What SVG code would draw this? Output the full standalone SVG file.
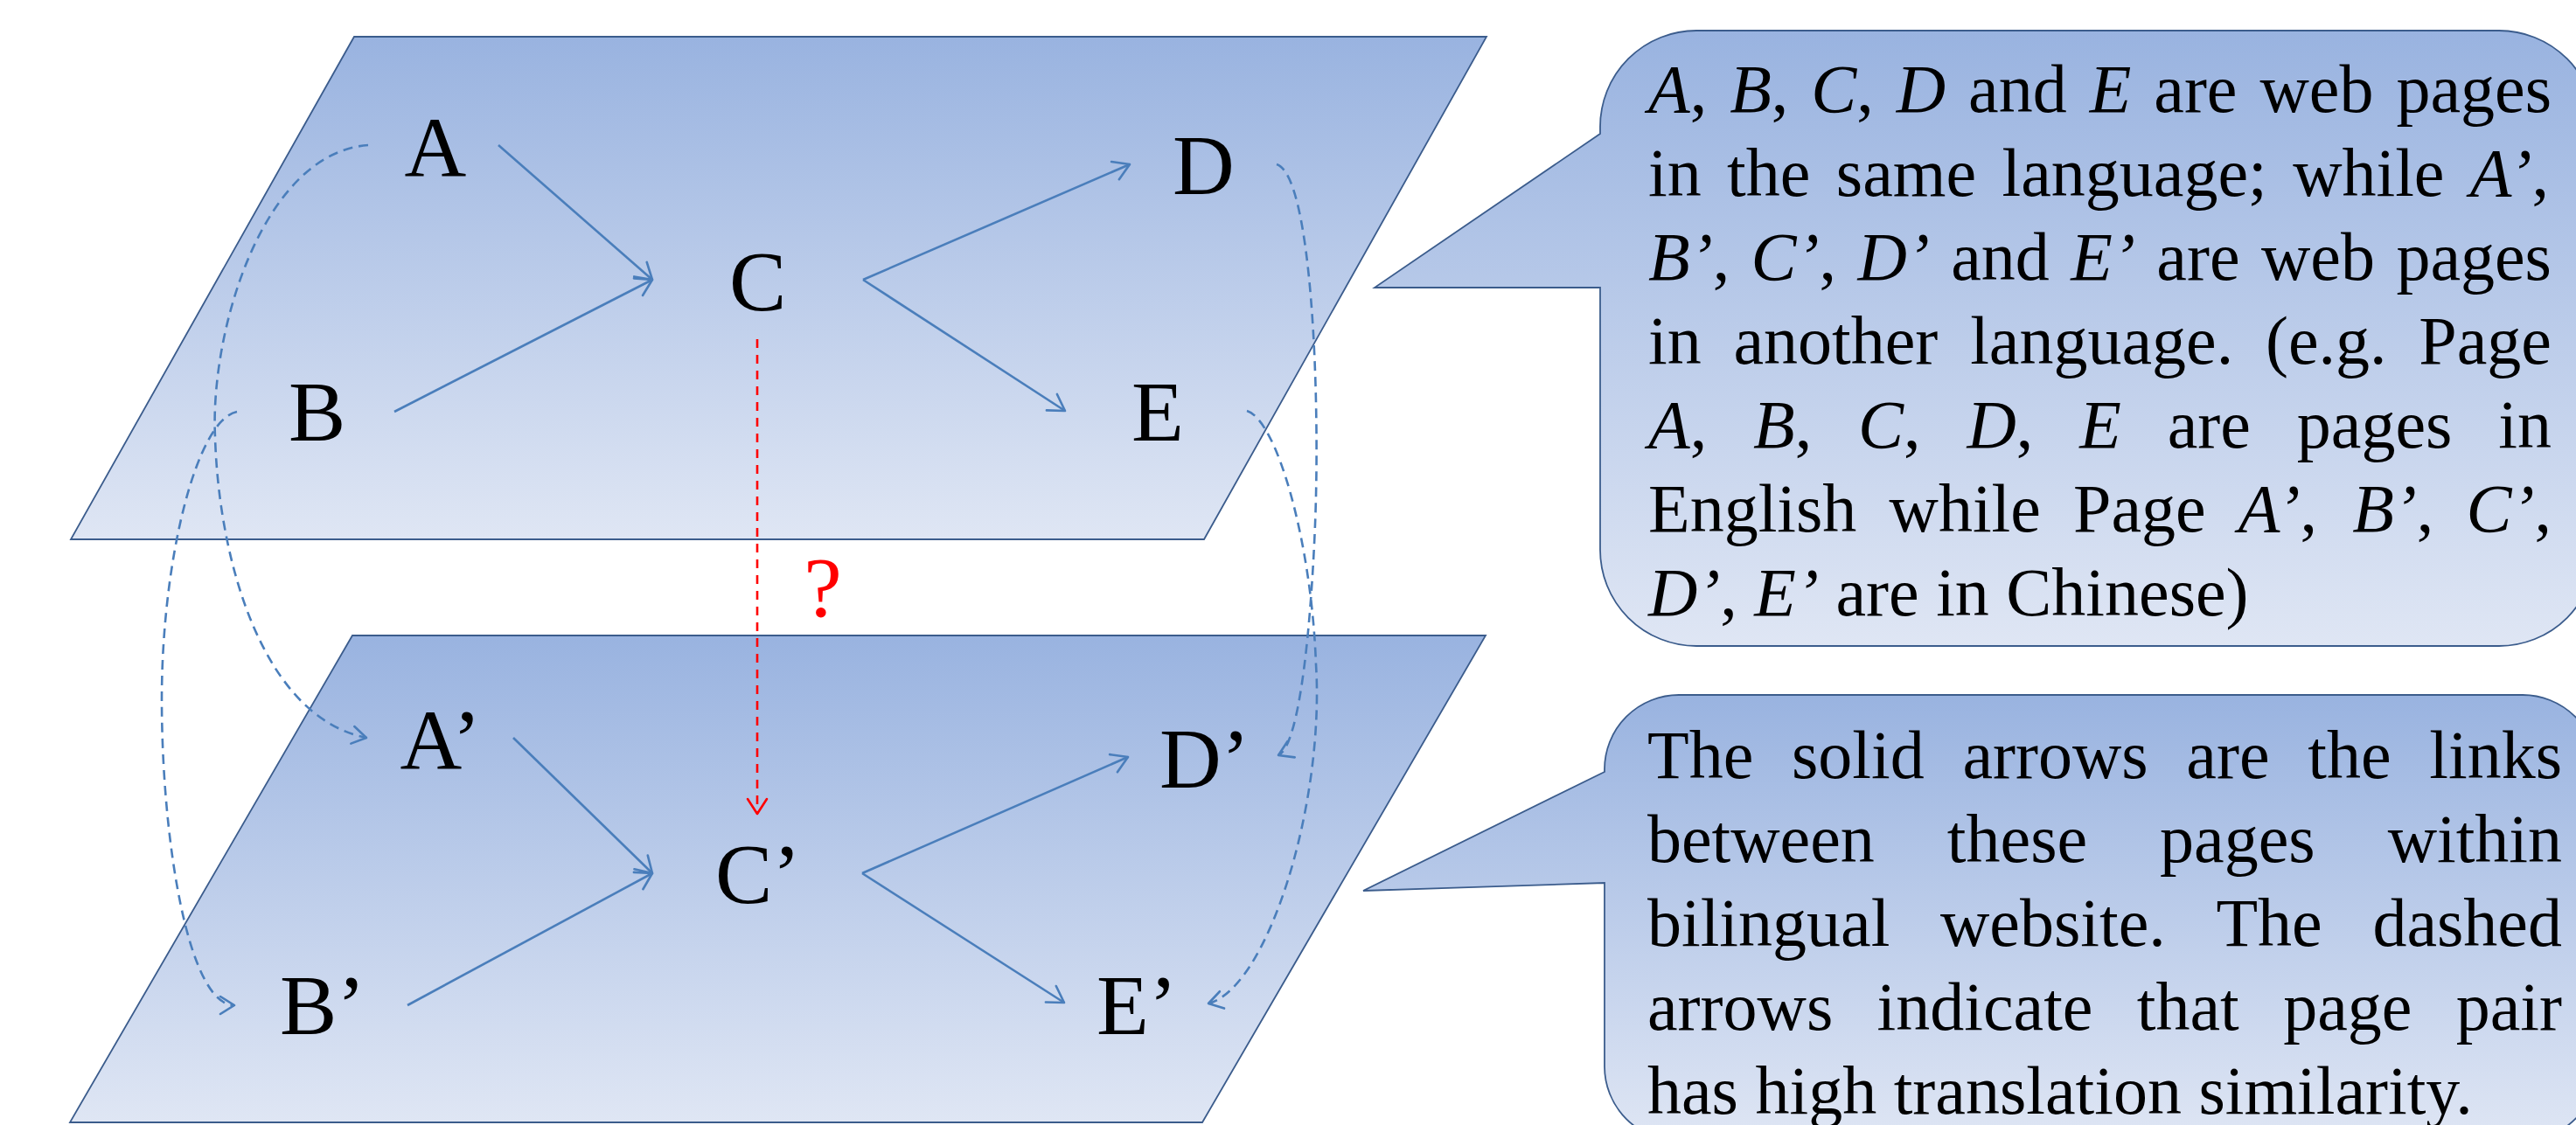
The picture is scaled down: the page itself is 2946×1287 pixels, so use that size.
<svg xmlns="http://www.w3.org/2000/svg" width="2946" height="1287" viewBox="0 0 2946 1287">
<defs>
<linearGradient id="g" x1="0" y1="0" x2="0" y2="1">
<stop offset="0" stop-color="#99B3E0"/>
<stop offset="1" stop-color="#DFE6F4"/>
</linearGradient>
<marker id="ah" viewBox="0 0 26 26" refX="22" refY="13" markerWidth="26" markerHeight="26" markerUnits="userSpaceOnUse" orient="auto">
<path d="M4,2 L22,13 L4,24" fill="none" stroke="#4A7EBB" stroke-width="2.6" stroke-linejoin="round" stroke-linecap="round"/>
</marker>
<marker id="ahd" viewBox="0 0 26 26" refX="22" refY="13" markerWidth="26" markerHeight="26" markerUnits="userSpaceOnUse" orient="auto">
<path d="M6,3 L22,13 L6,23" fill="none" stroke="#4A7EBB" stroke-width="2.6" stroke-linejoin="round" stroke-linecap="round"/>
</marker>
<marker id="ahr" viewBox="0 0 26 26" refX="22" refY="13" markerWidth="26" markerHeight="26" markerUnits="userSpaceOnUse" orient="auto">
<path d="M5,2 L22,13 L5,24" fill="none" stroke="#FF0000" stroke-width="2.6" stroke-linejoin="round" stroke-linecap="round"/>
</marker>
</defs>
<style>
.plane{fill:url(#g);stroke:#3B5C8C;stroke-width:1.8}
.call{fill:url(#g);stroke:#3B5C8C;stroke-width:1.8}
.lnk{fill:none;stroke:#4A7EBB;stroke-width:2.6;marker-end:url(#ah)}
.sim{fill:none;stroke:#4A7EBB;stroke-width:2.6;stroke-dasharray:11 7;marker-end:url(#ahd)}
.q{fill:none;stroke:#FF0000;stroke-width:2.6;stroke-dasharray:10 8;marker-end:url(#ahr)}
.lbl{font-family:"Liberation Serif","Times New Roman",serif;font-size:98px;fill:#000}
.ct{font-family:"Liberation Serif","Times New Roman",serif;font-size:78px;fill:#000}
.i{font-style:italic}
.red{fill:#FF0000}
</style>
<rect x="0" y="0" width="2946" height="1287" fill="#FFFFFF"/>

<g id="plane-top"><polygon class="plane" points="405,42 1700,42 1377,617 81,617"/></g>
<g id="plane-bottom"><polygon class="plane" points="403,727 1699,727 1375,1284 80,1284"/></g>

<g id="connectors">
<path class="lnk" d="M570,166 L746,320"/>
<path class="lnk" d="M451,471 L746,320"/>
<path class="lnk" d="M987,320 L1292,188"/>
<path class="lnk" d="M987,320 L1218,470"/>
<path class="lnk" d="M587,844 L746,999"/>
<path class="lnk" d="M466,1150 L746,999"/>
<path class="lnk" d="M986,999 L1290,866"/>
<path class="lnk" d="M986,999 L1217,1147"/>
<path class="sim" d="M421,166 C300,175 240,380 246,500 C250,640 300,820 419,844"/>
<path class="sim" d="M271,471 C225,480 185,640 185,800 C185,960 215,1150 268,1150"/>
<path class="sim" d="M1460,188 C1500,200 1510,450 1504,600 C1500,700 1488,852 1462,864"/>
<path class="sim" d="M1426,470 C1460,480 1500,620 1505,760 C1515,920 1450,1130 1382,1148"/>
<path class="q" d="M866,388 L866,931"/>
<text class="lbl red" x="941" y="705" text-anchor="middle">?</text>
</g>

<g id="node-A"><text class="lbl" x="462.5" y="201">A</text></g>
<g id="node-B"><text class="lbl" x="330" y="504">B</text></g>
<g id="node-C"><text class="lbl" x="834" y="354.5">C</text></g>
<g id="node-D"><text class="lbl" x="1341" y="222">D</text></g>
<g id="node-E"><text class="lbl" x="1294" y="504">E</text></g>
<g id="node-A2"><text class="lbl" x="457.5" y="878.5">A’</text></g>
<g id="node-B2"><text class="lbl" x="320" y="1183">B’</text></g>
<g id="node-C2"><text class="lbl" x="818" y="1032.5">C’</text></g>
<g id="node-D2"><text class="lbl" x="1326" y="901">D’</text></g>
<g id="node-E2"><text class="lbl" x="1254" y="1183">E’</text></g>

<g id="note-1">
<path class="call" d="M1940,35 H2858 A110,110 0 0 1 2968,145 V629 A110,110 0 0 1 2858,739 H1940 A110,110 0 0 1 1830,629 V329 L1572,329 L1830,153 V145 A110,110 0 0 1 1940,35 Z"/>
<text class="ct" y="128"><tspan x="1885"><tspan class="i">A</tspan>,</tspan> <tspan x="1978.13"><tspan class="i">B</tspan>,</tspan> <tspan x="2071.26"><tspan class="i">C</tspan>,</tspan> <tspan x="2168.76" class="i">D</tspan> <tspan x="2251.05">and</tspan> <tspan x="2389.65" class="i">E</tspan> <tspan x="2463.28">are</tspan> <tspan x="2584.49">web</tspan> <tspan x="2740.41">pages</tspan></text>
<text class="ct" y="224"><tspan x="1885">in</tspan> <tspan x="1975.08">the</tspan> <tspan x="2099.8">same</tspan> <tspan x="2289.49">language;</tspan> <tspan x="2622.15">while</tspan> <tspan x="2824.87"><tspan class="i">A’</tspan>,</tspan></text>
<text class="ct" y="320"><tspan x="1885"><tspan class="i">B’</tspan>,</tspan> <tspan x="2002.56"><tspan class="i">C’</tspan>,</tspan> <tspan x="2124.49" class="i">D’</tspan> <tspan x="2231.21">and</tspan> <tspan x="2368.27" class="i">E’</tspan> <tspan x="2466.33">are</tspan> <tspan x="2586">web</tspan> <tspan x="2740.38">pages</tspan></text>
<text class="ct" y="416"><tspan x="1885">in</tspan> <tspan x="1982.45">another</tspan> <tspan x="2253.14">language.</tspan> <tspan x="2590.99">(e.g.</tspan> <tspan x="2766.37">Page</tspan></text>
<text class="ct" y="512"><tspan x="1885"><tspan class="i">A</tspan>,</tspan> <tspan x="2005.04"><tspan class="i">B</tspan>,</tspan> <tspan x="2125.08"><tspan class="i">C</tspan>,</tspan> <tspan x="2249.49"><tspan class="i">D</tspan>,</tspan> <tspan x="2378.19" class="i">E</tspan> <tspan x="2478.73">are</tspan> <tspan x="2626.85">pages</tspan> <tspan x="2857.34">in</tspan></text>
<text class="ct" y="608"><tspan x="1885">English</tspan> <tspan x="2160.55">while</tspan> <tspan x="2371.05">Page</tspan> <tspan x="2559.86"><tspan class="i">A’</tspan>,</tspan> <tspan x="2690.17"><tspan class="i">B’</tspan>,</tspan> <tspan x="2820.48"><tspan class="i">C’</tspan>,</tspan></text>
<text class="ct" y="704" x="1885"><tspan class="i">D’</tspan>, <tspan class="i">E’</tspan> are in Chinese)</text>
</g>

<g id="note-2">
<path class="call" d="M1920,795 H2885 A85,85 0 0 1 2970,880 V1220 A85,85 0 0 1 2885,1305 H1920 A85,85 0 0 1 1835,1220 V1010 L1559,1019 L1835,883 V880 A85,85 0 0 1 1920,795 Z"/>
<text class="ct" y="890"><tspan x="1884">The</tspan> <tspan x="2048.99">solid</tspan> <tspan x="2244.4">arrows</tspan> <tspan x="2500.34">are</tspan> <tspan x="2639.28">the</tspan> <tspan x="2778.3">links</tspan></text>
<text class="ct" y="986"><tspan x="1884">between</tspan> <tspan x="2226.85">these</tspan> <tspan x="2470.09">pages</tspan> <tspan x="2730.65">within</tspan></text>
<text class="ct" y="1082"><tspan x="1884">bilingual</tspan> <tspan x="2219.02">website.</tspan> <tspan x="2534.46">The</tspan> <tspan x="2713.4">dashed</tspan></text>
<text class="ct" y="1178"><tspan x="1884">arrows</tspan> <tspan x="2146.56">indicate</tspan> <tspan x="2443.83">that</tspan> <tspan x="2611.15">page</tspan> <tspan x="2808.73">pair</tspan></text>
<text class="ct" y="1274" x="1884">has high translation similarity.</text>
</g>
</svg>
